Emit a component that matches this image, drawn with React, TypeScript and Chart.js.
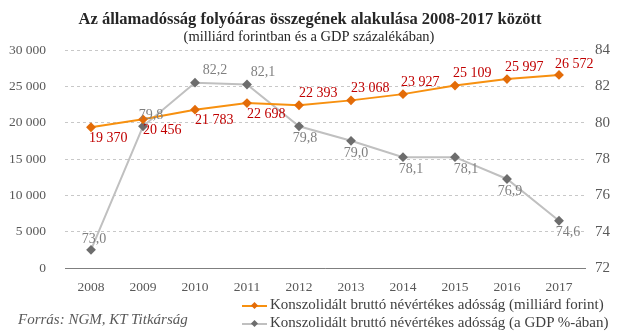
import React, { useEffect, useRef } from "react";
import { Chart, registerables } from "chart.js";

Chart.register(...registerables);

const years = ["2008", "2009", "2010", "2011", "2012", "2013", "2014", "2015", "2016", "2017"];
const debtHuf = [19370, 20456, 21783, 22698, 22393, 23068, 23927, 25109, 25997, 26572];
const debtGdp = [73.0, 79.8, 82.2, 82.1, 79.8, 79.0, 78.1, 78.1, 76.9, 74.6];
const hufLabels = ["19 370", "20 456", "21 783", "22 698", "22 393", "23 068", "23 927", "25 109", "25 997", "26 572"];
const gdpLabels = ["73,0", "79,8", "82,2", "82,1", "79,8", "79,0", "78,1", "78,1", "76,9", "74,6"];
const leftTicks = [0, 5000, 10000, 15000, 20000, 25000, 30000];
const rightTicks = [72, 74, 76, 78, 80, 82, 84];

const titleText = "Az államadósság folyóáras összegének alakulása 2008-2017 között";
const subtitleText = "(milliárd forintban és a GDP százalékában)";
const legendHuf = "Konszolidált bruttó névértékes adósság (milliárd forint)";
const legendGdp = "Konszolidált bruttó névértékes adósság (a GDP %-ában)";
const sourceText = "Forrás: NGM, KT Titkárság";

const FONT = "'Liberation Serif', serif";
const ORANGE = "#f7900f";
const ORANGE_PT = "#e36c09";
const GRAY = "#c0c0c0";
const GRAY_PT = "#6d6d6d";

// label placement styles (above = negative)
const hufDy = [11, 11, 11, 11, -12, -12, -12, -12, -12, -11];
const hufDx = [-2, 0, 0, 0, 0, 0, -2, -2, -2, -4];
const gdpDy = [-11, -11, -12, -12, 12, 12, 12, 12, 12, 12];
const gdpDx = [3, 8, 20, 16, 6, 5, 8, 11, 3, 9];

const fmtThousands = (v: number) => {
  const s = String(Math.round(v));
  return s.replace(/\B(?=(\d{3})+(?!\d))/g, " ");
};

const labelPlugin = {
  id: "pointLabels",
  afterDatasetsDraw(chart: any) {
    const ctx = chart.ctx;
    ctx.save();
    ctx.textBaseline = "middle";
    const m0 = chart.getDatasetMeta(0);
    ctx.font = `14px ${FONT}`;
    ctx.fillStyle = "#c00000";
    ctx.textAlign = "left";
    m0.data.forEach((pt: any, i: number) => {
      ctx.fillText(hufLabels[i], pt.x + hufDx[i], pt.y + hufDy[i]);
    });
    const m1 = chart.getDatasetMeta(1);
    ctx.fillStyle = "#7f7f7f";
    ctx.textAlign = "center";
    m1.data.forEach((pt: any, i: number) => {
      ctx.fillText(gdpLabels[i], pt.x + gdpDx[i], pt.y + gdpDy[i]);
    });
    ctx.restore();
  },
};

const titlePlugin = {
  id: "customTitle",
  afterDraw(chart: any) {
    const ctx = chart.ctx;
    ctx.save();
    ctx.textAlign = "center";
    ctx.textBaseline = "middle";
    ctx.fillStyle = "#262626";
    ctx.font = `bold 16.5px ${FONT}`;
    ctx.fillText(titleText, 310, 20);
    ctx.font = `14.5px ${FONT}`;
    ctx.fillText(subtitleText, 309, 37);
    ctx.restore();
  },
};

function LegendMark({ line, pt }: { line: string; pt: string }) {
  return (
    <span style={{ position: "relative", display: "inline-block", width: 25, height: 10, marginRight: 3, verticalAlign: "middle" }}>
      <span style={{ position: "absolute", left: 0, top: 4, width: 25, height: 2, background: line }} />
      <span style={{ position: "absolute", left: 10, top: 2.5, width: 5, height: 5, background: pt, transform: "rotate(45deg)" }} />
    </span>
  );
}

export default function App() {
  const ref = useRef<HTMLCanvasElement | null>(null);
  useEffect(() => {
    if (!ref.current) return;
    const chart = new Chart(ref.current, {
      type: "line",
      data: {
        labels: years,
        datasets: [
          {
            label: legendHuf,
            data: debtHuf,
            borderColor: ORANGE,
            backgroundColor: ORANGE_PT,
            pointBackgroundColor: ORANGE_PT,
            pointBorderColor: ORANGE_PT,
            borderWidth: 2,
            pointStyle: "rectRot",
            pointRadius: 3.5,
            yAxisID: "y",
            order: 1,
          },
          {
            label: legendGdp,
            data: debtGdp,
            borderColor: GRAY,
            backgroundColor: GRAY_PT,
            pointBackgroundColor: GRAY_PT,
            pointBorderColor: GRAY_PT,
            borderWidth: 2,
            pointStyle: "rectRot",
            pointRadius: 3.5,
            yAxisID: "y1",
            order: 2,
          },
        ],
      },
      options: {
        animation: false,
        responsive: false,
        maintainAspectRatio: false,
        layout: { padding: { left: 0, right: 0, top: 50, bottom: 0 } },
        plugins: {
          legend: { display: false },
          tooltip: { enabled: false },
          title: { display: false },
        },
        scales: {
          x: {
            offset: true,
            grid: { display: false, drawTicks: false },
            border: { display: true, color: "#7f7f7f", width: 1 },
            ticks: { color: "#595959", font: { family: FONT, size: 13.5 }, padding: 11, maxRotation: 0 },
            afterFit: (s: any) => { s.height = 67; },
          },
          y: {
            position: "left",
            min: 0,
            max: 30000,
            afterBuildTicks: (s: any) => { s.ticks = leftTicks.map((v) => ({ value: v })); },
            grid: { color: "#c8c8c8", drawTicks: false },
            border: { display: false, dash: [3, 3] },
            ticks: { color: "#595959", font: { family: FONT, size: 13.5 }, padding: 19, callback: (v: any) => fmtThousands(Number(v)) },
            afterFit: (s: any) => { s.width = 65; },
          },
          y1: {
            position: "right",
            min: 72,
            max: 84,
            afterBuildTicks: (s: any) => { s.ticks = rightTicks.map((v) => ({ value: v })); },
            grid: { display: false, drawTicks: false },
            border: { display: false },
            ticks: { color: "#595959", font: { family: FONT, size: 15 }, padding: 10 },
            afterFit: (s: any) => { s.width = 35; },
          },
        },
      } as any,
      plugins: [labelPlugin, titlePlugin],
    });
    return () => chart.destroy();
  }, []);

  const legendStyle: React.CSSProperties = {
    position: "absolute",
    left: 242,
    fontFamily: FONT,
    fontSize: 15,
    color: "#404040",
    whiteSpace: "nowrap",
    lineHeight: "18px",
  };

  return (
    <div style={{ position: "fixed", left: 0, top: 0, width: 620, height: 335, background: "#fff" }}>
      <canvas ref={ref} width={620} height={335} style={{ position: "absolute", left: 0, top: 0, width: 620, height: 335 }} />
      <div style={{ ...legendStyle, top: 295 }}>
        <LegendMark line={ORANGE} pt={ORANGE_PT} />
        {legendHuf}
      </div>
      <div style={{ ...legendStyle, top: 313 }}>
        <LegendMark line={GRAY} pt={GRAY_PT} />
        {legendGdp}
      </div>
      <div style={{ position: "absolute", left: 18, top: 310, fontFamily: FONT, fontSize: 15, fontStyle: "italic", color: "#595959", whiteSpace: "nowrap", lineHeight: "18px" }}>
        {sourceText}
      </div>
    </div>
  );
}
